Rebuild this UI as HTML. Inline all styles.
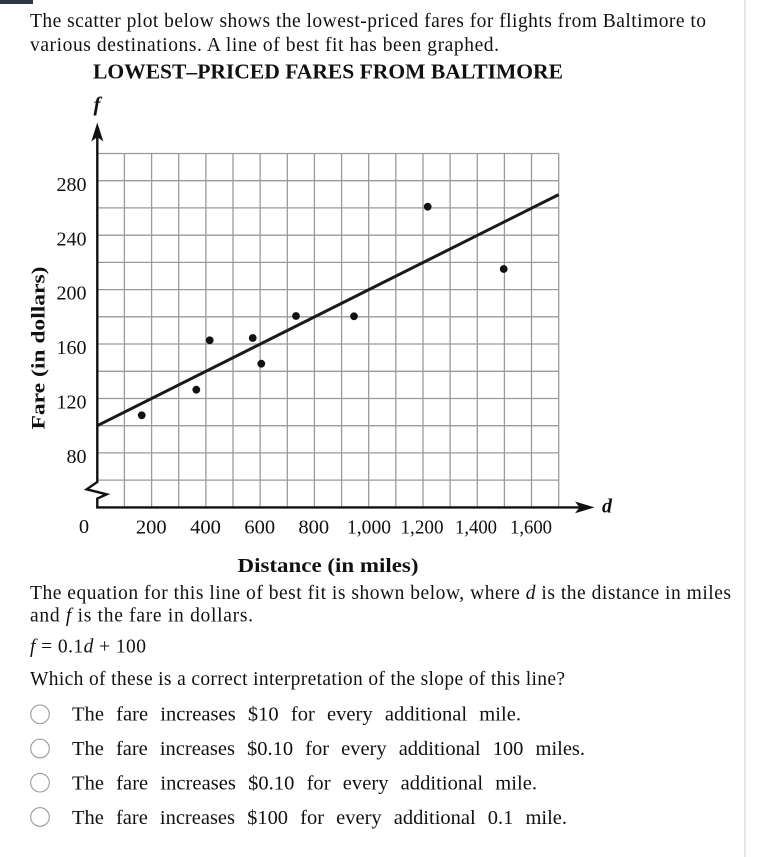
<!DOCTYPE html>
<html>
<head>
<meta charset="utf-8">
<style>
html,body{margin:0;padding:0;background:#fff;}
svg{display:block;}
text{font-family:"Liberation Serif","DejaVu Serif",serif;fill:#111;}
</style>
</head>
<body>
<svg width="765" height="857" viewBox="0 0 765 857" xmlns="http://www.w3.org/2000/svg">
<rect x="0" y="0" width="765" height="857" fill="#fff"/>
<rect x="0" y="0" width="33" height="4" fill="#2b3744"/>
<rect x="744" y="0" width="2" height="857" fill="#e6e6e6"/>

<!-- paragraph -->
<text x="30" y="27" font-size="19.5" textLength="676" lengthAdjust="spacing">The scatter plot below shows the lowest-priced fares for flights from Baltimore to</text>
<text x="30" y="51" font-size="19.5" textLength="469" lengthAdjust="spacing">various destinations.  A line of best fit has been graphed.</text>

<!-- title -->
<text x="93" y="78.5" font-size="21.5" font-weight="bold" textLength="470" lengthAdjust="spacingAndGlyphs" fill="#222">LOWEST–PRICED FARES FROM BALTIMORE</text>

<!-- grid -->
<g stroke="#9a9a9a" stroke-width="1.3" fill="none">
  <line x1="97.3" y1="153.5" x2="558.7" y2="153.5"/>
  <line x1="97.3" y1="180.7" x2="558.7" y2="180.7"/>
  <line x1="97.3" y1="207.9" x2="558.7" y2="207.9"/>
  <line x1="97.3" y1="235.2" x2="558.7" y2="235.2"/>
  <line x1="97.3" y1="262.4" x2="558.7" y2="262.4"/>
  <line x1="97.3" y1="289.6" x2="558.7" y2="289.6"/>
  <line x1="97.3" y1="316.8" x2="558.7" y2="316.8"/>
  <line x1="97.3" y1="344.0" x2="558.7" y2="344.0"/>
  <line x1="97.3" y1="371.3" x2="558.7" y2="371.3"/>
  <line x1="97.3" y1="398.5" x2="558.7" y2="398.5"/>
  <line x1="97.3" y1="425.7" x2="558.7" y2="425.7"/>
  <line x1="97.3" y1="452.9" x2="558.7" y2="452.9"/>
  <line x1="97.3" y1="480.1" x2="558.7" y2="480.1"/>

  <line x1="124.4" y1="153.5" x2="124.4" y2="507.4"/>
  <line x1="151.6" y1="153.5" x2="151.6" y2="507.4"/>
  <line x1="178.7" y1="153.5" x2="178.7" y2="507.4"/>
  <line x1="205.9" y1="153.5" x2="205.9" y2="507.4"/>
  <line x1="233.0" y1="153.5" x2="233.0" y2="507.4"/>
  <line x1="260.1" y1="153.5" x2="260.1" y2="507.4"/>
  <line x1="287.3" y1="153.5" x2="287.3" y2="507.4"/>
  <line x1="314.4" y1="153.5" x2="314.4" y2="507.4"/>
  <line x1="341.6" y1="153.5" x2="341.6" y2="507.4"/>
  <line x1="368.7" y1="153.5" x2="368.7" y2="507.4"/>
  <line x1="395.8" y1="153.5" x2="395.8" y2="507.4"/>
  <line x1="423.0" y1="153.5" x2="423.0" y2="507.4"/>
  <line x1="450.1" y1="153.5" x2="450.1" y2="507.4"/>
  <line x1="477.3" y1="153.5" x2="477.3" y2="507.4"/>
  <line x1="504.4" y1="153.5" x2="504.4" y2="507.4"/>
  <line x1="531.5" y1="153.5" x2="531.5" y2="507.4"/>
  <line x1="558.7" y1="153.5" x2="558.7" y2="507.4"/>
</g>

<!-- axes -->
<g stroke="#111" stroke-width="2.4" fill="none" stroke-linejoin="miter">
  <polyline points="97.3,132 97.3,482 86.7,489.3 106.7,494.3 97.3,498.5 97.3,507.4"/>
  <line x1="96.1" y1="507.4" x2="582" y2="507.4"/>
</g>
<path d="M97.3,122.5 L103.3,141.5 L97.3,137 L91.3,141.5 Z" fill="#111"/>
<path d="M594.5,507.4 L575,501.5 L579.5,507.4 L575,513.3 Z" fill="#111"/>

<text x="97" y="111" font-size="21" font-weight="bold" font-style="italic" text-anchor="middle">f</text>
<text x="602" y="512.5" font-size="20" font-weight="bold" font-style="italic">d</text>

<!-- y labels -->
<g font-size="20" text-anchor="end" fill="#222">
  <text x="86.5" y="191">280</text>
  <text x="86.5" y="245.3">240</text>
  <text x="86.5" y="299.7">200</text>
  <text x="86.5" y="354.1">160</text>
  <text x="86.5" y="408.5">120</text>
  <text x="86.5" y="462.9">80</text>
</g>

<!-- x labels -->
<g font-size="20.5" text-anchor="middle" fill="#222">
  <text x="84" y="533">0</text>
  <text x="151.3" y="533.5">200</text>
  <text x="205.5" y="533.5">400</text>
  <text x="259.8" y="533.5">600</text>
  <text x="313.8" y="533.5">800</text>
  <text x="369" y="533.5" textLength="44" lengthAdjust="spacingAndGlyphs">1,000</text>
  <text x="422" y="533.5" textLength="43" lengthAdjust="spacingAndGlyphs">1,200</text>
  <text x="476" y="533.5" textLength="42" lengthAdjust="spacingAndGlyphs">1,400</text>
  <text x="531" y="533.5" textLength="42" lengthAdjust="spacingAndGlyphs">1,600</text>
</g>

<!-- axis titles -->
<text x="328" y="572" font-size="19.5" font-weight="bold" text-anchor="middle" textLength="181" lengthAdjust="spacingAndGlyphs" fill="#222">Distance (in miles)</text>
<text transform="translate(44.5,348) rotate(-90)" x="0" y="0" font-size="19" font-weight="bold" text-anchor="middle" textLength="163" lengthAdjust="spacingAndGlyphs" fill="#222">Fare (in dollars)</text>

<!-- best fit line -->
<line x1="97.3" y1="425.7" x2="558.7" y2="194.6" stroke="#1a1a1a" stroke-width="3"/>

<!-- points -->
<g fill="#111">
  <circle cx="141.7" cy="415.3" r="3.9"/>
  <circle cx="196.3" cy="389.7" r="3.9"/>
  <circle cx="209.7" cy="340.3" r="3.9"/>
  <circle cx="252.7" cy="338" r="3.9"/>
  <circle cx="261.3" cy="363.7" r="3.9"/>
  <circle cx="296" cy="316" r="3.9"/>
  <circle cx="354" cy="316.3" r="3.9"/>
  <circle cx="427.7" cy="206.7" r="3.9"/>
  <circle cx="503.7" cy="269" r="3.9"/>
</g>

<!-- lower text -->
<text x="30" y="599" font-size="19.5" textLength="701" lengthAdjust="spacing">The equation for this line of best fit is shown below, where <tspan font-style="italic">d</tspan> is the distance in miles</text>
<text x="30" y="621.5" font-size="19.5" textLength="223" lengthAdjust="spacing">and <tspan font-style="italic">f</tspan>  is the fare in dollars.</text>
<text x="30" y="652.5" font-size="19.5" textLength="116" lengthAdjust="spacing"><tspan font-style="italic">f</tspan> = 0.1<tspan font-style="italic">d</tspan> + 100</text>
<text x="30" y="685" font-size="19.5" textLength="535" lengthAdjust="spacing">Which of these is a correct interpretation of the slope of this line?</text>

<!-- options -->
<g fill="#fff" stroke="#9a9a9a" stroke-width="1.1">
  <circle cx="40" cy="714.3" r="9.3"/>
  <circle cx="40" cy="748.5" r="9.3"/>
  <circle cx="40" cy="782.7" r="9.3"/>
  <circle cx="40" cy="817" r="9.3"/>
</g>
<g font-size="20.5" word-spacing="7">
<text x="72" y="720.5" textLength="449" lengthAdjust="spacing">The fare increases $10 for every additional mile.</text>
<text x="72" y="755" textLength="513" lengthAdjust="spacing">The fare increases $0.10 for every additional 100 miles.</text>
<text x="72" y="789.3" textLength="465" lengthAdjust="spacing">The fare increases $0.10 for every additional mile.</text>
<text x="72" y="824" textLength="495" lengthAdjust="spacing">The fare increases $100 for every additional 0.1 mile.</text>
</g>
</svg>
</body>
</html>
